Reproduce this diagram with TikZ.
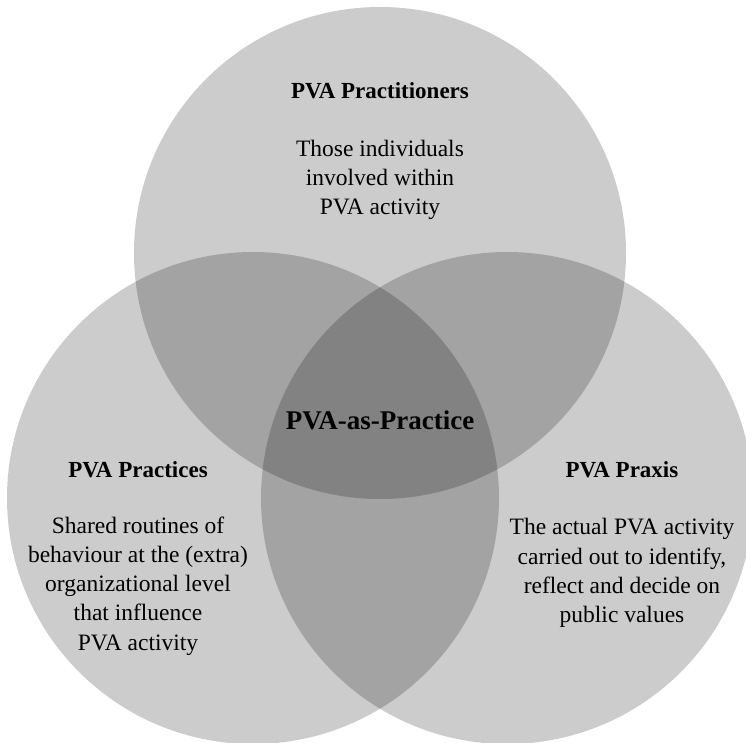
\documentclass[tikz,border=0pt]{standalone}
\usepackage{fontspec}
\setmainfont{Liberation Serif}
\usetikzlibrary{positioning}
\definecolor{circlecolor}{RGB}{0,0,0}

\begin{document}
\begin{tikzpicture}[x=1pt, y=-1pt]
  % Styles for the three sets and their labels
  \tikzset{
    vennset/.style={circle, fill=circlecolor, fill opacity=0.2, minimum size=492pt, inner sep=0pt},
    settitle/.style={font=\fontsize{23}{28}\selectfont\bfseries, text=black, inner sep=0pt},
    setdesc/.style={font=\fontsize{23.5}{29.2}\selectfont, align=center, text=black, inner sep=0pt},
    coretitle/.style={font=\fontsize{27}{32}\selectfont\bfseries, text=black, inner sep=0pt}
  }

  % Page frame
  \fill[white] (0,0) rectangle (746,742);
  \useasboundingbox (0,0) rectangle (746,742);
  \clip (0,0) rectangle (746,742);

  % The three circles
  \node[vennset] (practitioners) at (380,253) {};
  \node[vennset] (practices) at (253,498) {};
  \node[vennset] (praxis) at (507,498) {};

  % Top set
  \node[settitle] (practitionerstitle) at (380,91) {PVA Practitioners};
  \node[setdesc] (practitionersdesc) at (380,180) {Those individuals\\involved within\\PVA activity};

  % Left set
  \node[settitle] (practicestitle) at (138,470) {PVA Practices};
  \node[setdesc] (practicesdesc) at (138,586) {Shared routines of\\behaviour at the (extra)\\organizational level\\that influence\\PVA activity};

  % Right set
  \node[settitle] (praxistitle) at (622,470) {PVA Praxis};
  \node[setdesc] (praxisdesc) at (622,573) {The actual PVA activity\\carried out to identify,\\reflect and decide on\\public values};

  % Centre
  \node[coretitle] (core) at (380,420) {PVA-as-Practice};
\end{tikzpicture}
\end{document}
